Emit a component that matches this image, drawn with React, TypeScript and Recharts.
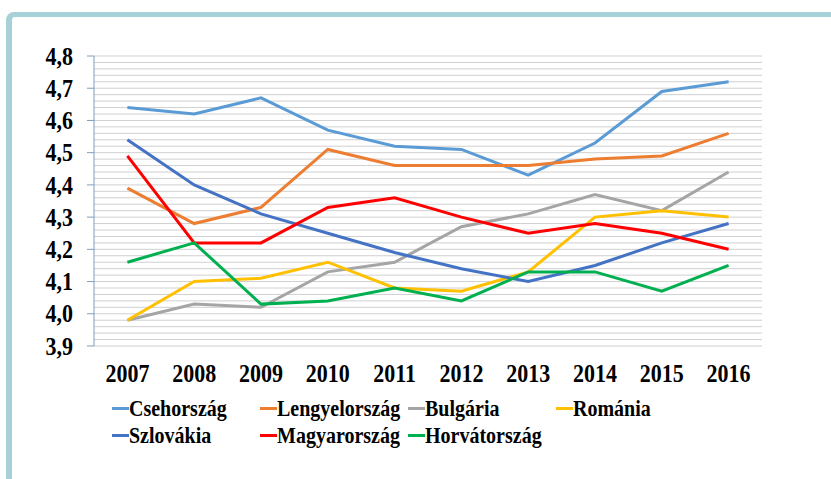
import React from 'react';
import { LineChart, Line, XAxis, YAxis, CartesianGrid, Legend } from 'recharts';

const years = ['2007', '2008', '2009', '2010', '2011', '2012', '2013', '2014', '2015', '2016'];

const csehorszag = [4.64, 4.62, 4.67, 4.57, 4.52, 4.51, 4.43, 4.53, 4.69, 4.72];
const lengyelorszag = [4.39, 4.28, 4.33, 4.51, 4.46, 4.46, 4.46, 4.48, 4.49, 4.56];
const bulgaria = [3.98, 4.03, 4.02, 4.13, 4.16, 4.27, 4.31, 4.37, 4.32, 4.44];
const romania = [3.98, 4.1, 4.11, 4.16, 4.08, 4.07, 4.13, 4.3, 4.32, 4.3];
const szlovakia = [4.54, 4.4, 4.31, 4.25, 4.19, 4.14, 4.1, 4.15, 4.22, 4.28];
const magyarorszag = [4.49, 4.22, 4.22, 4.33, 4.36, 4.3, 4.25, 4.28, 4.25, 4.2];
const horvatorszag = [4.16, 4.22, 4.03, 4.04, 4.08, 4.04, 4.13, 4.13, 4.07, 4.15];

// grid every 0.02, labels only on the tenths
const gridTicks = Array.from({ length: 46 }, (_, i) => +(3.9 + i * 0.02).toFixed(2));
const edgeTicks = Array.from({ length: years.length + 1 }, (_, i) => i);

const SERIES = [
  { name: 'Csehország', color: '#5B9BD5', values: csehorszag },
  { name: 'Lengyelország', color: '#ED7D31', values: lengyelorszag },
  { name: 'Bulgária', color: '#A5A5A5', values: bulgaria },
  { name: 'Románia', color: '#FFC000', values: romania },
  { name: 'Szlovákia', color: '#4472C4', values: szlovakia },
  { name: 'Magyarország', color: '#FF0000', values: magyarorszag },
  { name: 'Horvátország', color: '#00B050', values: horvatorszag },
];

const data = years.map((year, i) => {
  const row: Record<string, string | number> = { year };
  SERIES.forEach((s) => {
    row[s.name] = s.values[i];
  });
  return row;
});

const FONT = 'Liberation Serif';
// the source text is a bit taller than the plain font
const STRETCH = 1.12;

const YTick = ({ x, y, payload }: any) => {
  const v = payload.value as number;
  const isMajor = Math.abs(v * 10 - Math.round(v * 10)) < 1e-6;
  if (!isMajor) return null;
  return (
    <g>
      <line x1={x + 2} x2={x + 9} y1={y} y2={y} stroke="#7F9DBF" />
      <g transform={`translate(${x - 12},${y}) scale(1,${STRETCH})`}>
        <text x={0} y={0} dy="0.35em" textAnchor="end" fontFamily={FONT} fontWeight="bold" fontSize={22} fill="#000">
          {v.toFixed(1).replace('.', ',')}
        </text>
      </g>
    </g>
  );
};

const XTick = ({ x, y, payload }: any) => (
  <g transform={`translate(${x},${y}) scale(1,${STRETCH})`}>
    <text x={0} y={0} dy="0.71em" textAnchor="middle" fontFamily={FONT} fontWeight="bold" fontSize={22} fill="#000">
      {payload.value}
    </text>
  </g>
);

const renderLegend = () => (
  <div
    style={{
      display: 'grid',
      gridTemplateColumns: 'repeat(4, 148px)',
      gridAutoRows: '27px',
      fontFamily: FONT,
      fontWeight: 'bold',
      fontSize: 20,
      color: '#000',
    }}
  >
    {SERIES.map((s) => (
      <div key={s.name} style={{ display: 'flex', alignItems: 'center', whiteSpace: 'nowrap' }}>
        <span style={{ display: 'inline-block', width: 17, height: 3, background: s.color }} />
        <span style={{ display: 'inline-block', lineHeight: '27px', transform: `scaleY(${STRETCH})` }}>{s.name}</span>
      </div>
    ))}
  </div>
);

const App: React.FC = () => {
  return (
    <div
      style={{
        position: 'fixed',
        left: 0,
        top: 0,
        width: 831,
        height: 479,
        background: '#fff',
        overflow: 'hidden',
        fontFamily: FONT,
      }}
    >
      <div
        style={{
          position: 'absolute',
          left: 6,
          top: 12,
          right: -10,
          bottom: -10,
          borderLeft: '6px solid #A6D1D7',
          borderTop: '5px solid #A6D1D7',
          borderTopLeftRadius: 8,
        }}
      />
      <div style={{ position: 'absolute', left: 0, top: 0 }}>
        <LineChart width={831} height={479} data={data} margin={{ top: 56, right: 69, bottom: 93, left: 34 }}>
          <CartesianGrid vertical={false} stroke="#D0D0D0" />
          <XAxis
            xAxisId="edges"
            type="number"
            domain={[0, years.length]}
            ticks={edgeTicks}
            allowDataOverflow
            height={0}
            tick={false}
            tickSize={7}
            stroke="#D9D9D9"
          />
          <XAxis
            dataKey="year"
            height={40}
            axisLine={false}
            tickLine={false}
            tickSize={0}
            tickMargin={18}
            interval={0}
            padding={{ left: 33.4, right: 33.4 }}
            tick={<XTick />}
          />
          <YAxis
            width={60}
            domain={[3.9, 4.8]}
            ticks={gridTicks}
            interval={0}
            tickSize={7}
            tickMargin={2}
            tickLine={false}
            axisLine={{ stroke: '#7F9DBF' }}
            tick={<YTick />}
          />
          {SERIES.map((s) => (
            <Line
              key={s.name}
              type="linear"
              dataKey={s.name}
              stroke={s.color}
              strokeWidth={3}
              dot={false}
              isAnimationActive={false}
            />
          ))}
          <Legend
            layout="horizontal"
            verticalAlign="middle"
            align="center"
            wrapperStyle={{ left: 112, top: 395, width: 600 }}
            content={renderLegend}
          />
        </LineChart>
      </div>
    </div>
  );
};

export default App;
